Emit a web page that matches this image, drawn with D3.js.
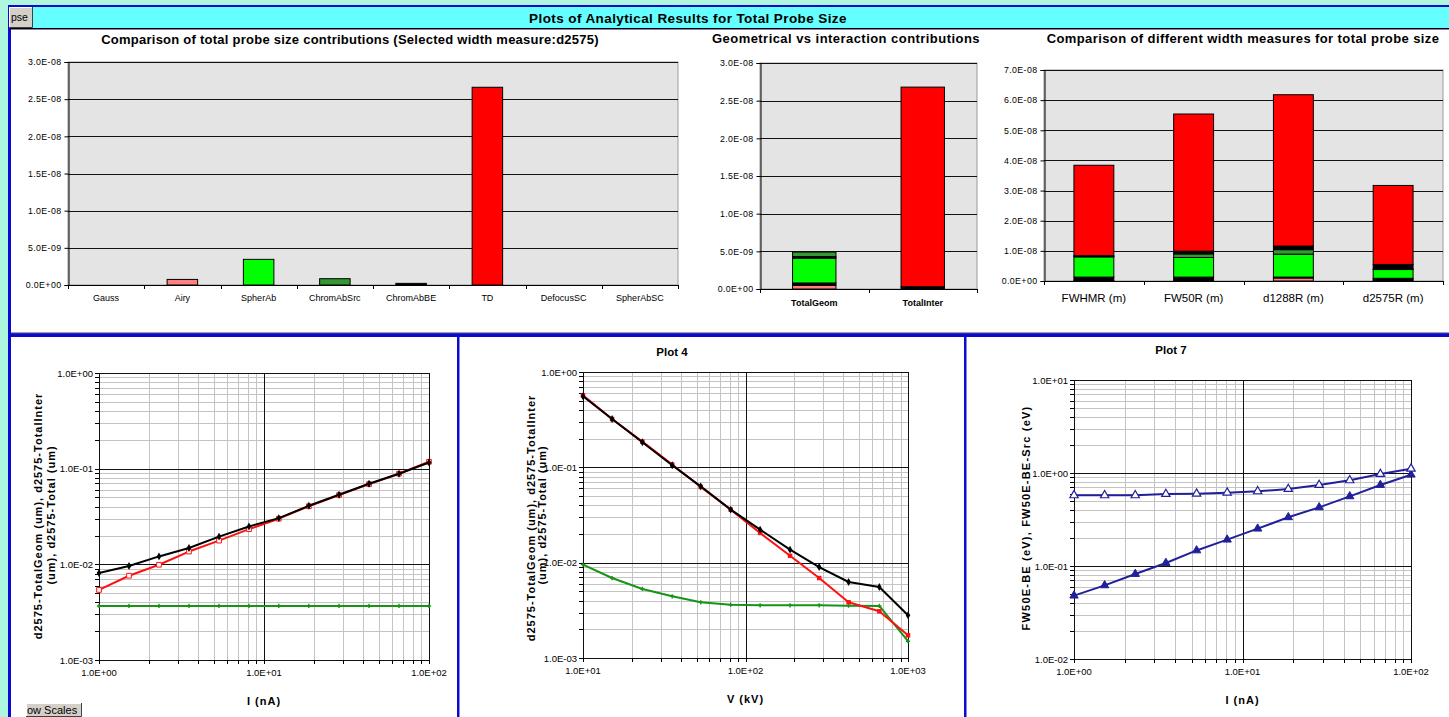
<!DOCTYPE html>
<html><head><meta charset="utf-8">
<script src="https://cdn.jsdelivr.net/npm/d3@7"></script>
<style>
body{margin:0;background:#aef6dd;overflow:hidden}
text{font-family:Arial,"Liberation Sans",sans-serif;fill:#000}
</style>
</head><body>
<svg id="c" width="1449" height="717"></svg>
<script>
// ---- Chart 1: contributions to total probe size (d2575) ----
const contribCats = ["Gauss","Airy","SpherAb","ChromAbSrc","ChromAbBE","TD","DefocusSC","SpherAbSC"];
const contribVals = [0, 7.5e-10, 3.45e-9, 8.5e-10, 2.2e-10, 2.66e-8, 0, 0];
const contribColors = ["#000000","#ff8080","#00ff00","#339933","#000000","#ff0000","#000000","#000000"];
const contribTicks = [0, 5e-9, 1e-8, 1.5e-8, 2e-8, 2.5e-8, 3e-8];

// ---- Chart 2: geometrical vs interaction ----
const geomCats = ["TotalGeom","TotalInter"];
const geomKeys = ["Airy","Gauss","SpherAb","ChromAbBE","ChromAbSrc","DefocusSC","TD"];
const geomColors = ["#ff8080","#000000","#00ff00","#000000","#339933","#000000","#ff0000"];
const geomTotalGeom = [5.0e-10, 3.0e-10, 3.3e-9, 2.0e-10, 6.0e-10, 0, 0];
const geomTotalInter = [0, 0, 0, 0, 0, 3.0e-10, 2.65e-8];
const geomTicks = [0, 5e-9, 1e-8, 1.5e-8, 2e-8, 2.5e-8, 3e-8];

// ---- Chart 3: width measures ----
const widthCats = ["FWHMR (m)","FW50R (m)","d1288R (m)","d2575R (m)"];
const widthKeys = ["Airy","Gauss","SpherAb","ChromAbSrc","ChromAbBE","TD"];
const widthColors = ["#ff8080","#000000","#00ff00","#339933","#000000","#ff0000"];
const widthFWHMR = [2e-10, 1.1e-9, 6.7e-9, 2e-10, 2e-10, 3.00e-8];
const widthFW50R = [2e-10, 1.1e-9, 6.5e-9, 1.2e-9, 9e-10, 4.55e-8];
const widthD1288R = [1.0e-9, 3e-10, 7.6e-9, 1.5e-9, 1.2e-9, 5.02e-8];
const widthD2575R = [3e-10, 6e-10, 2.9e-9, 2e-10, 1.5e-9, 2.62e-8];
const widthTicks = [0, 1e-8, 2e-8, 3e-8, 4e-8, 5e-8, 6e-8, 7e-8];

// ---- Bottom plots ----
const beamCurrent = [1, 1.52, 2.31, 3.51, 5.34, 8.11, 12.3, 18.7, 28.5, 43.3, 65.8, 100];
const plotA_total = [0.0081, 0.0096, 0.0121, 0.0148, 0.0195, 0.0249, 0.0304, 0.0409, 0.0533, 0.0695, 0.0885, 0.116];
const plotA_inter = [0.0054, 0.0076, 0.0099, 0.0136, 0.0177, 0.0233, 0.0300, 0.0405, 0.0530, 0.0690, 0.0885, 0.118];
const plotA_geom = [0.00367, 0.00367, 0.00367, 0.00367, 0.00367, 0.00367, 0.00367, 0.00367, 0.00367, 0.00367, 0.00367, 0.00367];

const beamVoltage = [10, 15.1, 23.2, 35.4, 53.0, 81.1, 123, 188, 284, 431, 666, 1000];
const plot4_total = [0.556, 0.321, 0.183, 0.105, 0.0632, 0.036, 0.0222, 0.0137, 0.0090, 0.00627, 0.00556, 0.00281];
const plot4_inter = [0.569, 0.321, 0.186, 0.107, 0.0622, 0.036, 0.0205, 0.0118, 0.0069, 0.00384, 0.00309, 0.00173];
const plot4_geom = [0.00953, 0.0069, 0.0053, 0.00444, 0.00384, 0.00362, 0.00357, 0.00357, 0.00357, 0.00354, 0.00352, 0.0015];

const plot7_be = [0.575, 0.575, 0.575, 0.594, 0.600, 0.615, 0.635, 0.673, 0.743, 0.834, 0.976, 1.113];
const plot7_beSrc = [0.048, 0.0619, 0.082, 0.1077, 0.147, 0.192, 0.252, 0.334, 0.427, 0.561, 0.743, 0.959];

const svg = d3.select("#c");

// "1.0E-08" style number format
function fmtE(v) {
  const [m, e] = v.toExponential(1).split("e");
  const n = +e;
  return m + "E" + (n < 0 ? "-" : "+") + String(Math.abs(n)).padStart(2, "0");
}

// ---------- window frame ----------
svg.append("rect").attr("width", 1449).attr("height", 717).attr("fill", "#aef6dd");
svg.append("rect").attr("x", 8).attr("y", 5).attr("width", 1441).attr("height", 712).attr("fill", "#0a0ad0");
svg.append("rect").attr("x", 10).attr("y", 7).attr("width", 1439).attr("height", 21).attr("fill", "#66ffff");
svg.append("rect").attr("x", 10).attr("y", 28).attr("width", 1439).attr("height", 1.5).attr("fill", "#000");
svg.append("text").attr("x", 688).attr("y", 22.5).attr("text-anchor", "middle")
  .attr("font-size", 13.5).attr("font-weight", "bold").attr("letter-spacing", 0.4)
  .text("Plots of Analytical Results for Total Probe Size");

// push button
function button(x, y, w, h, label, tx, fs) {
  svg.append("rect").attr("x", x).attr("y", y).attr("width", w).attr("height", h).attr("fill", "#d4d0c8");
  svg.append("path").attr("d", `M${x + 0.5},${y + h}V${y + 0.5}H${x + w}`).attr("stroke", "#fff").attr("fill", "none");
  svg.append("path").attr("d", `M${x},${y + h - 0.5}H${x + w - 0.5}V${y}`).attr("stroke", "#404040").attr("fill", "none");
  svg.append("text").attr("x", tx).attr("y", y + h / 2 + fs * 0.36)
    .attr("font-size", fs).attr("fill", "#000").text(label);
}
button(9, 7, 24, 21, "pse", 11, 10.5);

// panels
svg.append("rect").attr("x", 11).attr("y", 29.5).attr("width", 1438).attr("height", 302.5).attr("fill", "#fff");
svg.append("rect").attr("x", 11).attr("y", 332).attr("width", 1438).attr("height", 1.2).attr("fill", "#a0a0a0");
svg.append("rect").attr("x", 11).attr("y", 337).attr("width", 446).attr("height", 380).attr("fill", "#fff");
svg.append("rect").attr("x", 459.5).attr("y", 337).attr("width", 504.5).attr("height", 380).attr("fill", "#fff");
svg.append("rect").attr("x", 966.5).attr("y", 337).attr("width", 482.5).attr("height", 380).attr("fill", "#fff");

// ---------- bar chart helper ----------
function barFrame(o) {
  const g = svg.append("g");
  const x = d3.scaleBand().domain(o.cats).range([o.x0, o.x1]).paddingInner(0.6).paddingOuter(0.3);
  const y = d3.scaleLinear().domain([0, o.yMax]).range([o.y1, o.y0]);
  g.append("rect").attr("x", o.x0).attr("y", o.y0).attr("width", o.x1 - o.x0).attr("height", o.y1 - o.y0)
    .attr("fill", "#e4e4e4").attr("stroke", "#9a9a9a");
  g.selectAll(".grid").data(o.ticks.filter(t => t > 0)).join("line")
    .attr("x1", o.x0).attr("x2", o.x1).attr("y1", d => Math.round(y(d)) + 0.5).attr("y2", d => Math.round(y(d)) + 0.5)
    .attr("stroke", "#111").attr("shape-rendering", "crispEdges");
  // y axis
  const ya = d3.axisLeft(y).tickValues(o.ticks).tickFormat(fmtE).tickSize(4).tickPadding(3);
  const yg = g.append("g").attr("transform", `translate(${o.x0 + 0.5},0)`).call(ya);
  yg.selectAll("text").attr("font-size", 8.8).attr("letter-spacing", 0.4).attr("font-family", "Arial");
  yg.select(".domain").attr("stroke", "#000");
  // x axis: ticks at category boundaries
  const step = x.step();
  const bounds = d3.range(o.cats.length + 1).map(i => o.x0 + i * step);
  g.append("line").attr("x1", o.x0).attr("x2", o.x1).attr("y1", o.y1 + 0.5).attr("y2", o.y1 + 0.5).attr("stroke", "#000");
  g.selectAll(".xt").data(bounds).join("line")
    .attr("x1", d => Math.round(d) + 0.5).attr("x2", d => Math.round(d) + 0.5)
    .attr("y1", o.y1).attr("y2", o.y1 + 4).attr("stroke", "#000");
  g.selectAll(".xl").data(o.cats).join("text")
    .attr("x", d => x(d) + x.bandwidth() / 2).attr("y", o.labelY).attr("text-anchor", "middle")
    .attr("font-size", o.labelSize).attr("font-weight", o.labelWeight || "normal").text(d => d);
  svg.append("text").attr("x", o.titleX).attr("y", o.titleY).attr("text-anchor", "middle")
    .attr("font-size", 13).attr("font-weight", "bold").attr("letter-spacing", o.titleLs).text(o.title);
  return { g, x, y };
}

// Chart 1
{
  const c = barFrame({ cats: contribCats, x0: 68, x1: 678, y0: 62, y1: 285, yMax: 3e-8, ticks: contribTicks,
    labelY: 301, labelSize: 9, title: "Comparison of total probe size contributions (Selected width measure:d2575)",
    titleX: 350, titleY: 44, titleLs: 0.25 });
  c.g.selectAll(".bar").data(contribCats.map((k, i) => ({ k, v: contribVals[i], c: contribColors[i] })).filter(d => d.v > 0))
    .join("rect")
    .attr("x", d => c.x(d.k)).attr("width", c.x.bandwidth())
    .attr("y", d => c.y(d.v)).attr("height", d => c.y(0) - c.y(d.v))
    .attr("fill", d => d.c).attr("stroke", "#000").attr("stroke-width", 1);
}

// stacked bars
function stackBars(c, cats, keys, colors, rows) {
  const table = cats.map((cat, i) => { const r = { cat }; keys.forEach((k, j) => r[k] = rows[i][j]); return r; });
  const series = d3.stack().keys(keys)(table);
  series.forEach((s, j) => {
    c.g.selectAll(null).data(s.filter(d => d[1] - d[0] > 0)).join("rect")
      .attr("x", d => c.x(d.data.cat)).attr("width", c.x.bandwidth())
      .attr("y", d => c.y(d[1])).attr("height", d => c.y(d[0]) - c.y(d[1]))
      .attr("fill", colors[j]).attr("stroke", "#000").attr("stroke-width", 1);
  });
}

// Chart 2
{
  const c = barFrame({ cats: geomCats, x0: 760, x1: 977, y0: 63, y1: 289, yMax: 3e-8, ticks: geomTicks,
    labelY: 306, labelSize: 9, labelWeight: "bold", title: "Geometrical vs interaction contributions",
    titleX: 846, titleY: 43, titleLs: 0.45 });
  stackBars(c, geomCats, geomKeys, geomColors, [geomTotalGeom, geomTotalInter]);
}

// Chart 3
{
  const c = barFrame({ cats: widthCats, x0: 1044, x1: 1443, y0: 70, y1: 281, yMax: 7e-8, ticks: widthTicks,
    labelY: 302, labelSize: 11.5, title: "Comparison of different width measures for total probe size",
    titleX: 1243, titleY: 43, titleLs: 0.4 });
  stackBars(c, widthCats, widthKeys, widthColors, [widthFWHMR, widthFW50R, widthD1288R, widthD2575R]);
}

// ---------- log-log plot helper ----------
function logPlot(o) {
  const g = svg.append("g");
  const x = d3.scaleLog().domain(o.xDom).range([o.x0, o.x1]);
  const y = d3.scaleLog().domain(o.yDom).range([o.y1, o.y0]);
  const gridVals = dom => {
    const out = [];
    const e0 = Math.round(Math.log10(dom[0])), e1 = Math.round(Math.log10(dom[1]));
    for (let e = e0; e < e1; e++) for (let k = 1; k < 10; k++) out.push({ v: k * Math.pow(10, e), major: k === 1 });
    out.push({ v: dom[1], major: true });
    return out;
  };
  const xs = gridVals(o.xDom), ys = gridVals(o.yDom);
  const px = v => Math.round(v) + 0.5;
  g.append("rect").attr("x", o.x0).attr("y", o.y0).attr("width", o.x1 - o.x0).attr("height", o.y1 - o.y0).attr("fill", "#fff");
  // minor grid
  g.selectAll(".mx").data(xs.filter(d => !d.major)).join("line")
    .attr("x1", d => px(x(d.v))).attr("x2", d => px(x(d.v))).attr("y1", o.y0).attr("y2", o.y1).attr("stroke", "#c4c4c4");
  g.selectAll(".my").data(ys.filter(d => !d.major)).join("line")
    .attr("y1", d => px(y(d.v))).attr("y2", d => px(y(d.v))).attr("x1", o.x0).attr("x2", o.x1).attr("stroke", "#c4c4c4");
  // major grid
  g.selectAll(".Mx").data(xs.filter(d => d.major)).join("line")
    .attr("x1", d => px(x(d.v))).attr("x2", d => px(x(d.v))).attr("y1", o.y0).attr("y2", o.y1).attr("stroke", "#111");
  g.selectAll(".My").data(ys.filter(d => d.major)).join("line")
    .attr("y1", d => px(y(d.v))).attr("y2", d => px(y(d.v))).attr("x1", o.x0).attr("x2", o.x1).attr("stroke", "#111");
  // tick marks
  g.selectAll(".ty").data(ys).join("line")
    .attr("y1", d => px(y(d.v))).attr("y2", d => px(y(d.v))).attr("x1", o.x0 - 4).attr("x2", o.x0).attr("stroke", "#000");
  g.selectAll(".tx").data(xs).join("line")
    .attr("x1", d => px(x(d.v))).attr("x2", d => px(x(d.v))).attr("y1", o.y1).attr("y2", o.y1 + 4).attr("stroke", "#000");
  // labels
  g.selectAll(".ly").data(ys.filter(d => d.major)).join("text")
    .attr("x", o.x0 - 6).attr("y", d => y(d.v) + 3.5).attr("text-anchor", "end").attr("font-size", 9.5).text(d => fmtE(d.v));
  g.selectAll(".lx").data(xs.filter(d => d.major)).join("text")
    .attr("x", d => x(d.v)).attr("y", o.y1 + 16).attr("text-anchor", "middle").attr("font-size", 9.5).text(d => fmtE(d.v));
  // axis titles
  g.append("text").attr("x", (o.x0 + o.x1) / 2).attr("y", o.y1 + 45).attr("text-anchor", "middle")
    .attr("font-size", 11).attr("font-weight", "bold").attr("letter-spacing", 1).text(o.xTitle);
  o.yTitles.forEach(t => {
    g.append("text").attr("transform", `translate(${t.x},${t.y}) rotate(-90)`).attr("text-anchor", "middle")
      .attr("font-size", 11).attr("font-weight", "bold").attr("letter-spacing", t.ls).text(t.text);
  });
  if (o.title) g.append("text").attr("x", o.title.x).attr("y", o.title.y).attr("text-anchor", "middle")
    .attr("font-size", 11.5).attr("font-weight", "bold").text(o.title.text);
  // series
  o.series.forEach(s => {
    const pts = o.xVals.map((xv, i) => [xv, s.values[i]]);
    g.append("path").attr("d", d3.line().x(d => x(d[0])).y(d => y(d[1]))(pts))
      .attr("fill", "none").attr("stroke", s.color).attr("stroke-width", 2).attr("stroke-linejoin", "round");
    g.selectAll(null).data(pts).join("path")
      .attr("transform", d => `translate(${x(d[0])},${y(d[1])})`)
      .attr("d", d3.symbol().type(s.symbol).size(s.size))
      .attr("fill", s.fill).attr("stroke", s.stroke).attr("stroke-width", s.sw || 1);
  });
  return g;
}

// Plot A: probe size vs beam current
logPlot({
  x0: 99, x1: 429, y0: 373, y1: 660, xDom: [1, 100], yDom: [1e-3, 1], xVals: beamCurrent,
  xTitle: "I (nA)",
  yTitles: [
    { x: 42, y: 516, ls: 1, text: "d2575-TotalGeom (um), d2575-TotalInter" },
    { x: 55, y: 515, ls: 1, text: "(um), d2575-Total (um)" }
  ],
  series: [
    { values: plotA_geom, color: "#169416", symbol: d3.symbolCross, size: 10, fill: "#169416", stroke: "none" },
    { values: plotA_inter, color: "#ff1010", symbol: d3.symbolSquare, size: 22, fill: "#fff", stroke: "#ff1010" },
    { values: plotA_total, color: "#000", symbol: d3.symbolDiamond, size: 18, fill: "#000", stroke: "none" }
  ]
});

// Plot 4: probe size vs beam voltage
logPlot({
  x0: 583, x1: 908, y0: 372, y1: 658, xDom: [10, 1000], yDom: [1e-3, 1], xVals: beamVoltage,
  xTitle: "V (kV)", title: { x: 672, y: 356, text: "Plot 4" },
  yTitles: [
    { x: 535, y: 518, ls: 1, text: "d2575-TotalGeom (um), d2575-TotalInter" },
    { x: 546, y: 515, ls: 1, text: "(um), d2575-Total (um)" }
  ],
  series: [
    { values: plot4_geom, color: "#169416", symbol: d3.symbolCross, size: 10, fill: "#169416", stroke: "none" },
    { values: plot4_inter, color: "#ff1010", symbol: d3.symbolSquare, size: 20, fill: "#ff1010", stroke: "none" },
    { values: plot4_total, color: "#000", symbol: d3.symbolDiamond, size: 18, fill: "#000", stroke: "none" }
  ]
});

// Plot 7: energy spread vs beam current
logPlot({
  x0: 1074, x1: 1411, y0: 380, y1: 659, xDom: [1, 100], yDom: [1e-2, 10], xVals: beamCurrent,
  xTitle: "I (nA)", title: { x: 1171, y: 354, text: "Plot 7" },
  yTitles: [
    { x: 1030, y: 518, ls: 1.2, text: "FW50E-BE (eV), FW50E-BE-Src (eV)" }
  ],
  series: [
    { values: plot7_beSrc, color: "#20209a", symbol: d3.symbolTriangle, size: 30, fill: "#20209a", stroke: "#20209a" },
    { values: plot7_be, color: "#20209a", symbol: d3.symbolTriangle, size: 30, fill: "#fff", stroke: "#20209a", sw: 1.2 }
  ]
});

button(26, 703, 56, 14, "ow Scales", 27, 11);
</script>
</body></html>
